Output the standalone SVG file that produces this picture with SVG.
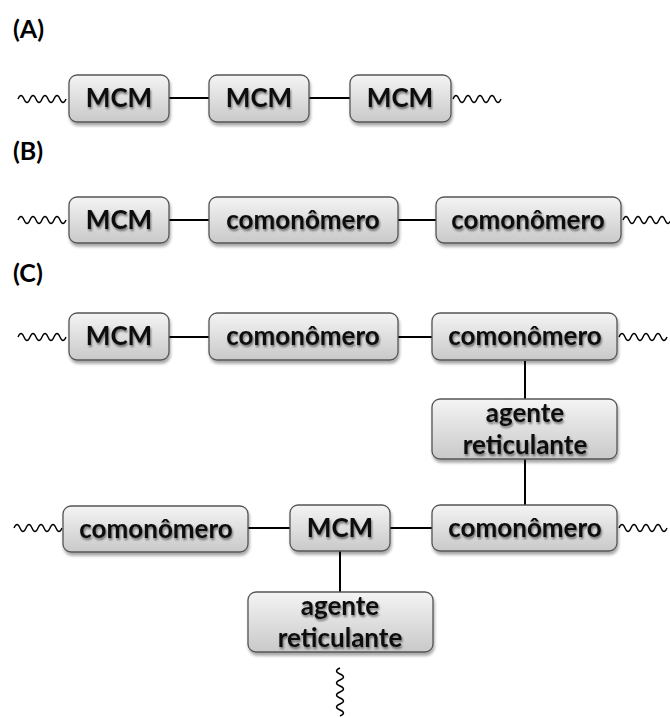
<svg xmlns="http://www.w3.org/2000/svg" width="670" height="718" viewBox="0 0 670 718">
<style>
.box{fill:url(#g);stroke:#555;stroke-width:1.3;filter:url(#sh)}
.t{font-family:Lato,"Open Sans","Liberation Sans",sans-serif;font-weight:bold;font-size:26px;fill:#111;text-anchor:middle;filter:url(#ts)}
.lbl{font-family:Lato,"Open Sans","Liberation Sans",sans-serif;font-weight:bold;font-size:25px;fill:#000}
.ln{stroke:#000;stroke-width:2;fill:none}
.sq{stroke:#000;stroke-width:1.4;fill:none}
</style>
<defs>
<linearGradient id="g" x1="0" y1="0" x2="0" y2="1">
<stop offset="0" stop-color="#f4f4f4"/>
<stop offset="1" stop-color="#c9c9c9"/>
</linearGradient>
<filter id="sh" x="-10%" y="-20%" width="120%" height="150%">
<feGaussianBlur in="SourceAlpha" stdDeviation="1.5"/>
<feOffset dx="1" dy="2.5" result="b"/>
<feComponentTransfer><feFuncA type="linear" slope="0.35"/></feComponentTransfer>
<feMerge><feMergeNode/><feMergeNode in="SourceGraphic"/></feMerge>
</filter>
<filter id="ts" x="-10%" y="-20%" width="120%" height="150%">
<feGaussianBlur in="SourceAlpha" stdDeviation="1.2"/>
<feOffset dx="1" dy="1.5"/>
<feComponentTransfer><feFuncA type="linear" slope="0.5"/></feComponentTransfer>
<feMerge><feMergeNode/><feMergeNode in="SourceGraphic"/></feMerge>
</filter>
<path id="wh" class="sq" d="M0,0 q3,-7 6,0 t6,0 t6,0 t6,0 t6,0 t6,0 t6,0 t6,0"/>
<path id="wv" class="sq" d="M0,0 q-7,3 0,6 t0,6 t0,6 t0,6 t0,6 t0,6 t0,6 t0,6"/>
</defs>
<rect width="670" height="718" fill="#fff"/>
<text class="lbl" x="13" y="38">(A)</text>
<text class="lbl" x="13" y="160">(B)</text>
<text class="lbl" x="13" y="282">(C)</text>
<g id="connectors">
<use href="#wh" x="18" y="99"/>
<use href="#wh" x="453" y="99"/>
<line class="ln" x1="169" y1="98" x2="209" y2="98"/>
<line class="ln" x1="309" y1="98" x2="350" y2="98"/>
<use href="#wh" x="18" y="220"/>
<use href="#wh" x="623" y="220"/>
<line class="ln" x1="169" y1="220" x2="209" y2="220"/>
<line class="ln" x1="398" y1="220" x2="436" y2="220"/>
<use href="#wh" x="18" y="337"/>
<use href="#wh" x="619" y="337"/>
<line class="ln" x1="169" y1="337" x2="209" y2="337"/>
<line class="ln" x1="398" y1="337" x2="432" y2="337"/>
<line class="ln" x1="525" y1="361" x2="525" y2="399"/>
<line class="ln" x1="525" y1="459" x2="525" y2="505"/>
<use href="#wh" x="14" y="528"/>
<use href="#wh" x="619" y="528"/>
<line class="ln" x1="248" y1="528" x2="290" y2="528"/>
<line class="ln" x1="390" y1="528" x2="432" y2="528"/>
<line class="ln" x1="340" y1="551" x2="340" y2="592"/>
<use href="#wv" x="340" y="668"/>
</g>
<g id="a1"><rect class="box" x="69" y="75" width="100" height="47" rx="8"/><text class="t" x="119" y="107">MCM</text></g>
<g id="a2"><rect class="box" x="209" y="75" width="100" height="47" rx="8"/><text class="t" x="259" y="107">MCM</text></g>
<g id="a3"><rect class="box" x="350" y="75" width="101" height="47" rx="8"/><text class="t" x="400" y="107">MCM</text></g>
<g id="b1"><rect class="box" x="69" y="197" width="100" height="46" rx="8"/><text class="t" x="119" y="229">MCM</text></g>
<g id="b2"><rect class="box" x="209" y="197" width="189" height="46" rx="8"/><text class="t" x="303" y="229">comonômero</text></g>
<g id="b3"><rect class="box" x="436" y="197" width="185" height="46" rx="8"/><text class="t" x="528" y="229">comonômero</text></g>
<g id="c1"><rect class="box" x="69" y="313" width="100" height="47" rx="8"/><text class="t" x="119" y="345">MCM</text></g>
<g id="c2"><rect class="box" x="209" y="313" width="189" height="47" rx="8"/><text class="t" x="303" y="345">comonômero</text></g>
<g id="c3"><rect class="box" x="432" y="313" width="185" height="47" rx="8"/><text class="t" x="525" y="345">comonômero</text></g>
<g id="c4"><rect class="box" x="432" y="399" width="185" height="60" rx="8"/><text class="t" x="525" y="422">agente</text><text class="t" x="525" y="454">reticulante</text></g>
<g id="c5"><rect class="box" x="432" y="505" width="185" height="46" rx="8"/><text class="t" x="525" y="537">comonômero</text></g>
<g id="c6"><rect class="box" x="290" y="505" width="100" height="46" rx="8"/><text class="t" x="340" y="537">MCM</text></g>
<g id="c7"><rect class="box" x="63" y="506" width="185" height="46" rx="8"/><text class="t" x="156" y="538">comonômero</text></g>
<g id="c8"><rect class="box" x="248" y="592" width="185" height="60" rx="8"/><text class="t" x="340" y="615">agente</text><text class="t" x="340" y="647">reticulante</text></g>
</svg>
